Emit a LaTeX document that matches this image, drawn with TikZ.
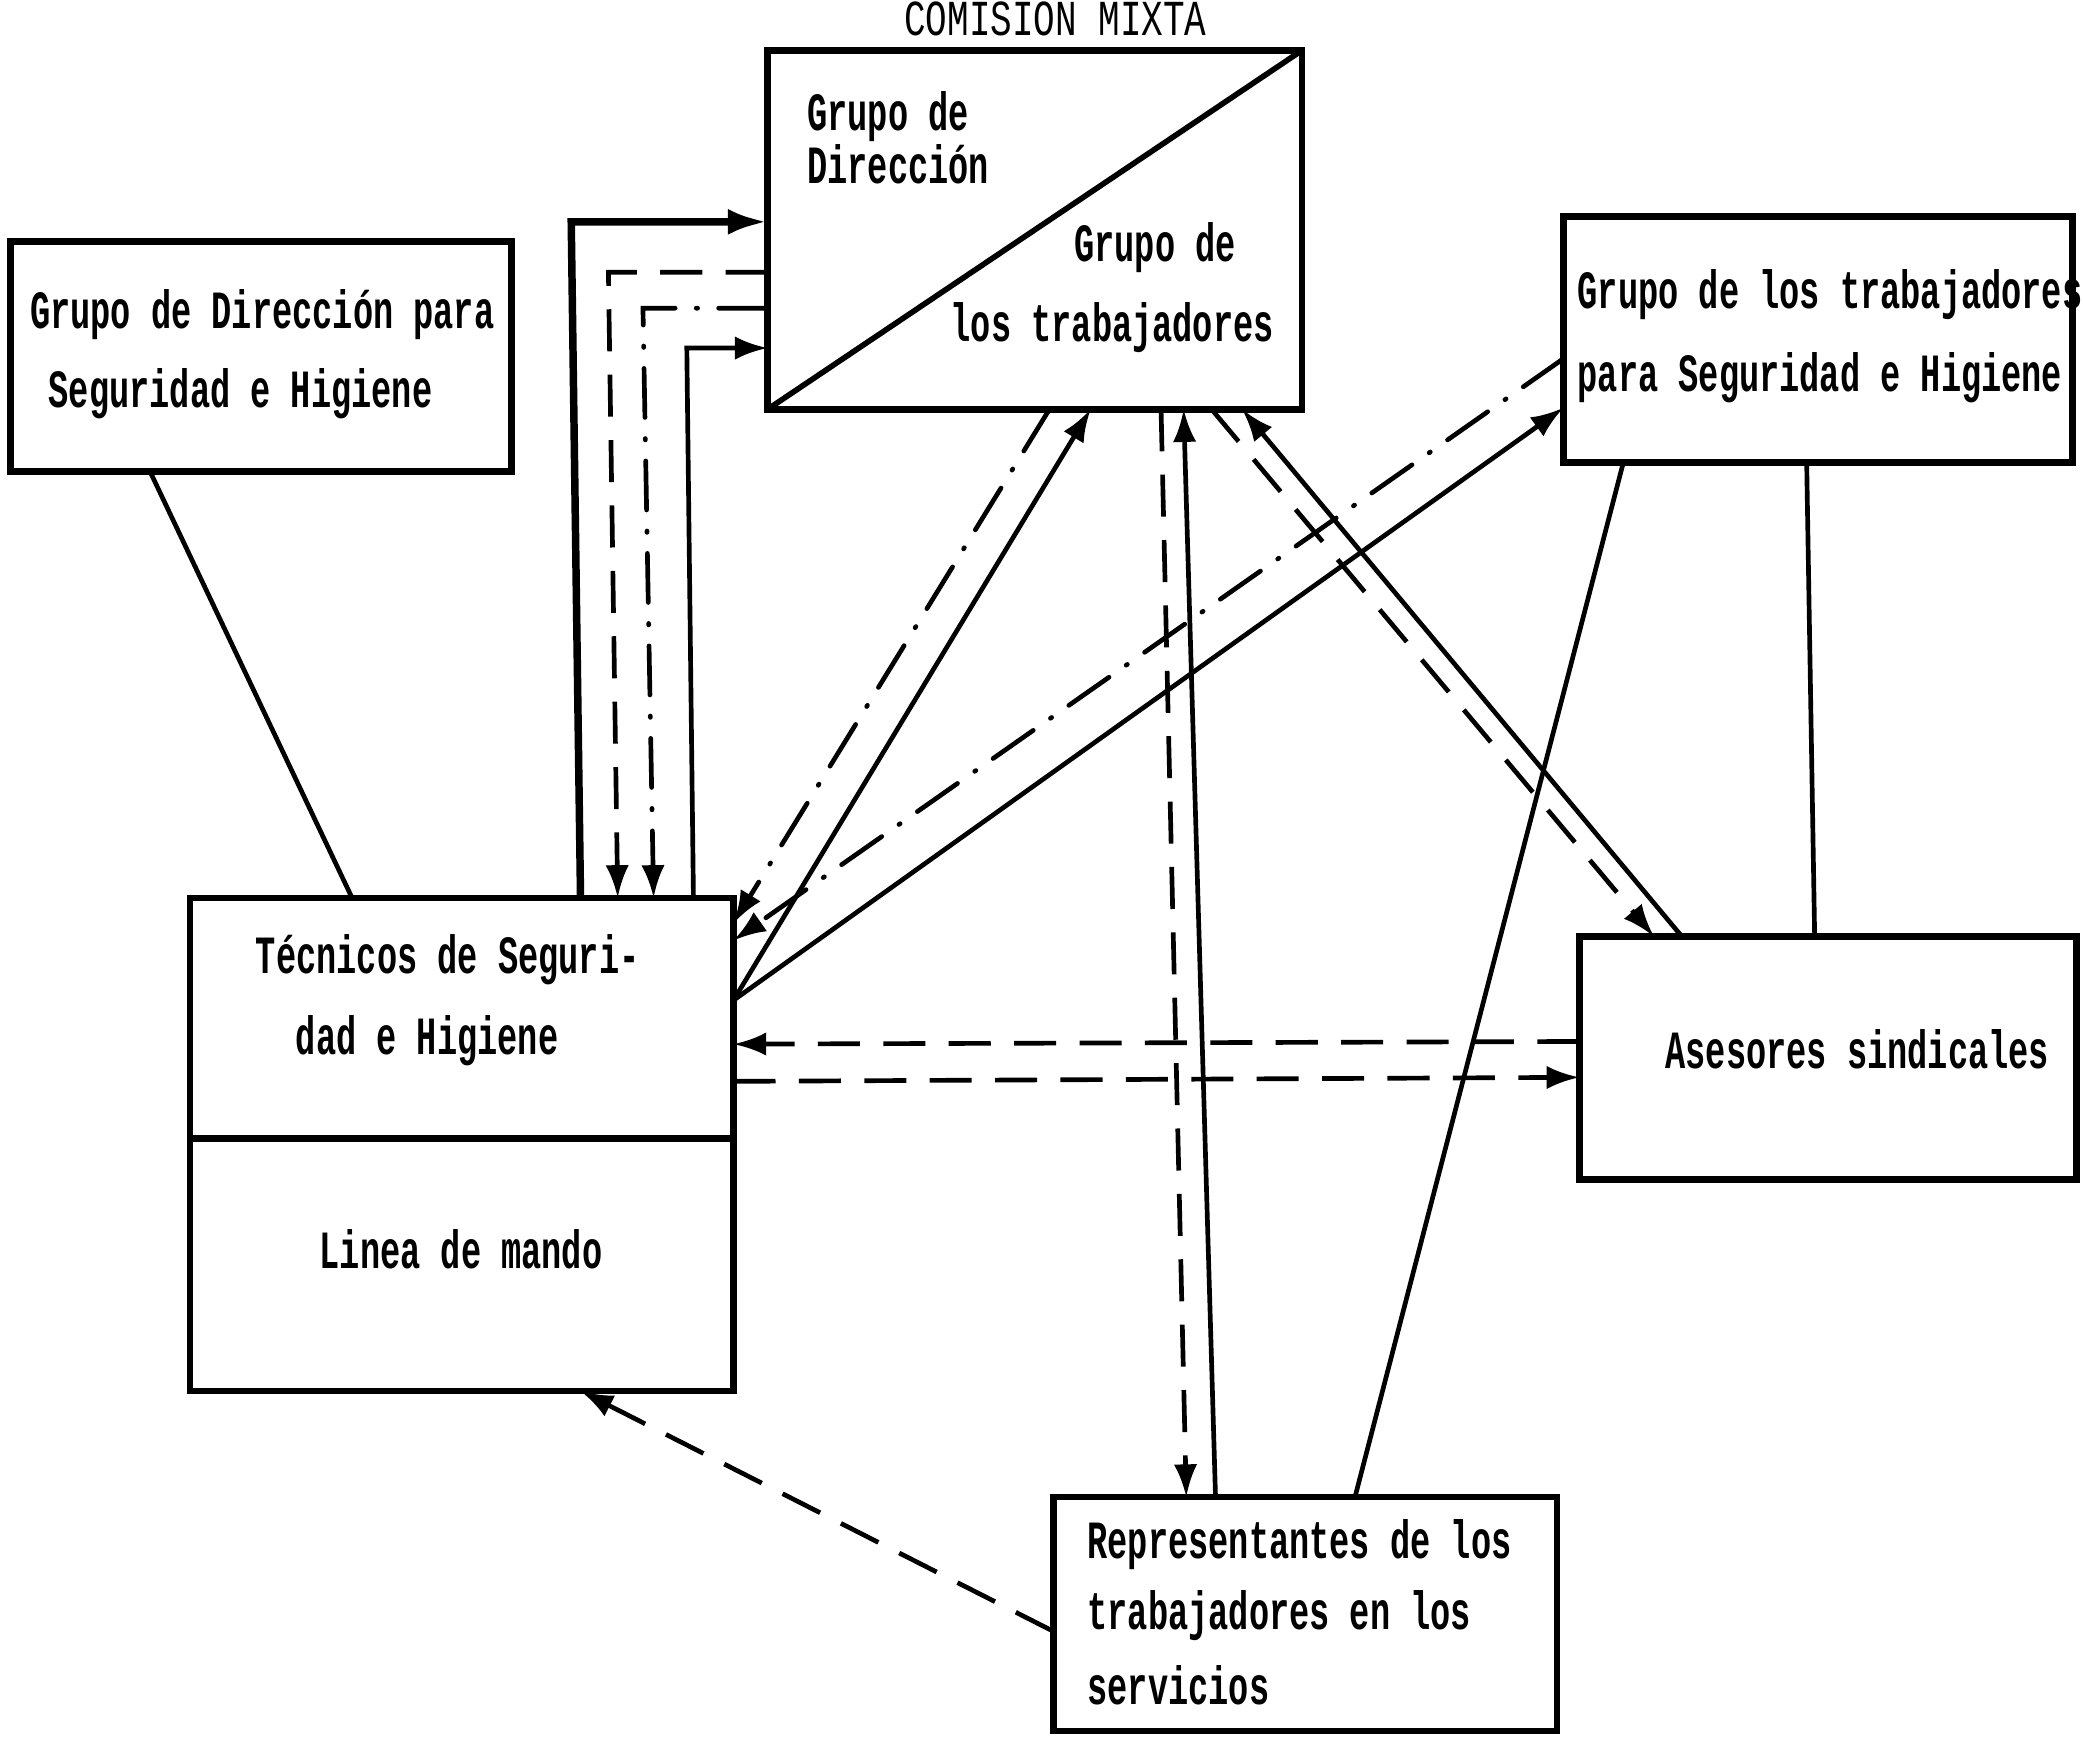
\documentclass[tikz,border=0pt]{standalone}
\usepackage{fontspec}
\usepackage{graphicx}
\usetikzlibrary{arrows.meta,calc}
\newfontfamily\twfont{Liberation Mono}
\newcommand{\tx}[1]{\scalebox{1}[1.6]{\twfont\bfseries\fontsize{7.2pt}{8pt}\selectfont #1}}
\newcommand{\ttl}[1]{\scalebox{1}[1.4]{\twfont\fontsize{7.7pt}{8pt}\selectfont #1}}
\tikzset{
 box/.style={draw, line width=1.4pt, inner sep=0pt, outer sep=0pt},
 lbl/.style={inner sep=0pt, anchor=base west},
 conn/.style={line width=1pt},
 dsh/.style={conn, dash pattern=on 9pt off 5pt},
 dd/.style={conn, line cap=round, dash pattern=on 10.5pt off 4.5pt on 0.3pt off 4.5pt},
 tip/.style={-{Latex[length=7pt,width=5pt]}},
}
\begin{document}
\begin{tikzpicture}[x=0.01cm,y=-0.01cm]
\useasboundingbox (0,0) rectangle (1568,1310);
% boxes
\node[box, minimum width=3.77cm, minimum height=1.73cm] (A) at (196.5,268.5) {};
\node[box, minimum width=4.02cm, minimum height=2.70cm] (C) at (779,173) {};
\node[box, minimum width=3.83cm, minimum height=1.85cm] (B) at (1368.5,255.5) {};
\node[box, minimum width=4.09cm, minimum height=3.71cm] (T) at (347.5,861.5) {};
\node[box, minimum width=3.74cm, minimum height=1.83cm] (S) at (1376,796.5) {};
\node[box, minimum width=3.79cm, minimum height=1.76cm] (R) at (982.5,1215) {};
\draw[line width=1.2pt] (C.south west) -- (C.north east);
\draw[line width=1.4pt] (T.west |- 0,857) -- (T.east |- 0,857);
% texts
\node[lbl] (tC) at (680,27) {\ttl{COMISION MIXTA}};
\node[lbl] (tA1) at (22,247) {\tx{Grupo de Dirección para}};
\node[lbl] (tA2) at (36,307) {\tx{Seguridad e Higiene}};
\node[lbl] (tC1) at (607,98) {\tx{Grupo de}};
\node[lbl] (tC2) at (607,138) {\tx{Dirección}};
\node[lbl] (tC3) at (808,197) {\tx{Grupo de}};
\node[lbl] (tC4) at (715,257) {\tx{los trabajadores}};
\node[lbl] (tB1) at (1187,232) {\tx{Grupo de los trabajadores}};
\node[lbl] (tB2) at (1187,295) {\tx{para Seguridad e Higiene}};
\node[lbl] (tT1) at (192,733) {\tx{Técnicos de Seguri-}};
\node[lbl] (tT2) at (222,794) {\tx{dad e Higiene}};
\node[lbl] (tT3) at (240,955) {\tx{Linea de mando}};
\node[lbl] (tS) at (1253,804) {\tx{Asesores sindicales}};
\node[lbl] (tR1) at (818,1173) {\tx{Representantes de los}};
\node[lbl] (tR2) at (818,1227) {\tx{trabajadores en los}};
\node[lbl] (tR3) at (818,1283) {\tx{servicios}};
% left group of connectors
\coordinate (k1) at (430,167);
\coordinate (k2) at (458,205);
\coordinate (k3) at (484,232);
\coordinate (k4) at (517,262);
\draw[conn, line width=1.6pt, -{Latex[length=8.5pt,width=5.5pt]}] (T.north -| 437,0) -- (k1) -- (C.west |- 0,167);
\draw[dsh, tip] (C.west |- 0,205) -- (k2) -- (T.north -| 465,0);
\draw[dd, tip] (C.west |- 0,232) -- (k3) -- (T.north -| 492,0);
\draw[conn, tip] (T.north -| 522,0) -- (k4) -- (C.west |- 0,262);
% diagonals
\draw[dd, tip] (C.south -| 790,0) -- (T.east |- 0,695);
\draw[conn, tip] (T.east |- 0,753) -- (C.south -| 821,0);
\draw[dd, tip] (B.west |- 0,270) -- (T.east |- 0,708);
\draw[conn, tip] (T.east |- 0,753) -- (B.west |- 0,307);
\draw[dsh, tip] (C.south -| 874,0) -- (R.north -| 893,0);
\draw[conn, tip] (R.north -| 915,0) -- (C.south -| 891,0);
\draw[dsh, tip] (C.south -| 912,0) -- (S.north -| 1245,0);
\draw[conn, tip] (S.north -| 1266,0) -- (C.south -| 935,0);
\draw[conn] (B.south -| 1222,0) -- (R.north -| 1020,0);
\draw[conn] (B.south -| 1360,0) -- (S.north -| 1366,0);
\draw[dsh, tip] (S.west |- 0,784) -- (T.east |- 0,786);
\draw[dsh, tip] (T.east |- 0,814) -- (S.west |- 0,811);
\draw[dsh, tip] (R.west |- 0,1228) -- (T.south -| 437,0);
\draw[conn] (A.south -| 113,0) -- (T.north -| 265,0);
\end{tikzpicture}
\end{document}
